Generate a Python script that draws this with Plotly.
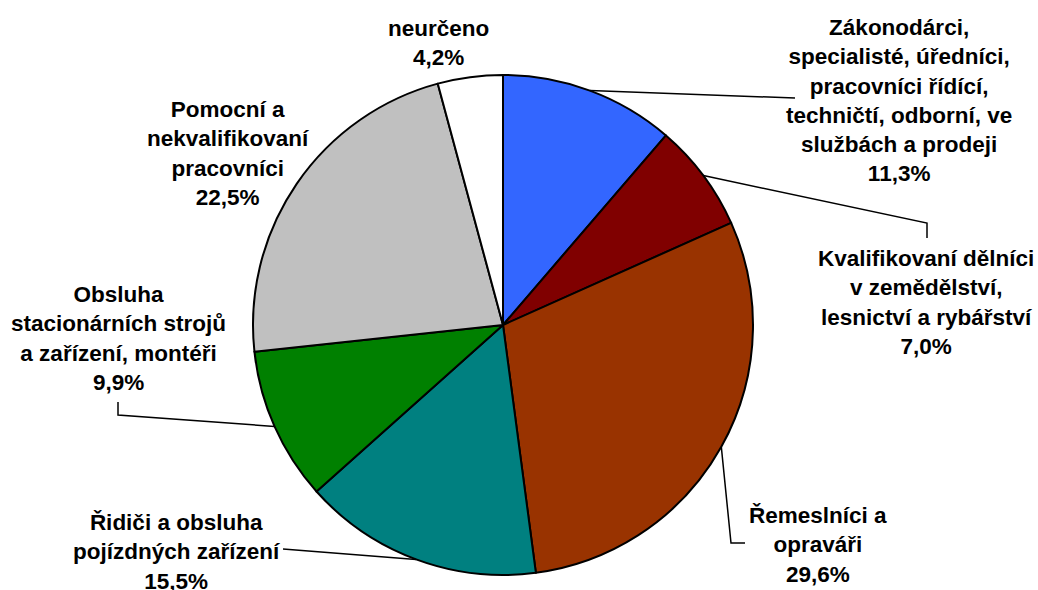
import math
import plotly.graph_objects as go

labels = [
    "Zákonodárci,<br>specialisté, úředníci,<br>pracovníci řídící,<br>techničtí, odborní, ve<br>službách a prodeji",
    "Kvalifikovaní dělníci<br>v zemědělství,<br>lesnictví a rybářství",
    "Řemeslníci a<br>opraváři",
    "Řidiči a obsluha<br>pojízdných zařízení",
    "Obsluha<br>stacionárních strojů<br>a zařízení, montéři",
    "Pomocní a<br>nekvalifikovaní<br>pracovníci",
    "neurčeno",
]
values = [11.3, 7.0, 29.6, 15.5, 9.9, 22.5, 4.2]
colors = ["#3366FF", "#800000", "#993300", "#008080", "#008000", "#C0C0C0", "#FFFFFF"]

W, H = 1038, 590
CX, CY, R = 503, 325, 250

# label layout (pixel positions of text centres) and leader-line elbows
label_pos = [(899, 100), (926, 302), (818, 545), (176, 552), (118, 338), (228, 153), (438, 43)]
leader_path = [
    [(795, 98)],
    [(927, 223), (927, 238)],
    [(731, 543), (745, 543)],
    [(283, 549)],
    [(118, 415), (118, 402)],
    None,
    None,
]

def px(x):
    return x / W

def py(y):
    return 1 - y / H

fig = go.Figure(go.Pie(
    labels=[l.replace("<br>", " ") for l in labels],
    values=values,
    sort=False,
    direction="clockwise",
    rotation=0,
    marker=dict(colors=colors, line=dict(color="black", width=2)),
    textinfo="none",
    hoverinfo="label+percent",
    domain=dict(x=[px(CX - R), px(CX + R)], y=[py(CY + R), py(CY - R)]),
    showlegend=False,
))

total = sum(values)
cum = 0.0
annotations = []
shapes = []
for i, (lab, v) in enumerate(zip(labels, values)):
    mid = (cum + v / 2) / total * 2 * math.pi
    cum += v
    txt = f"<b>{lab}<br>{str(v).replace('.', ',')}%</b>"
    lx, ly = label_pos[i]
    annotations.append(dict(
        x=px(lx), y=py(ly), xref="paper", yref="paper",
        text=txt, showarrow=False, align="center",
        xanchor="center", yanchor="middle",
        font=dict(family="Liberation Sans, Arial, sans-serif", size=22.5, color="black"),
    ))
    if leader_path[i]:
        sx = CX + R * math.sin(mid)
        sy = CY - R * math.cos(mid)
        pts = [(sx, sy)] + leader_path[i]
        path = "M " + " L ".join(f"{px(x)},{py(y)}" for x, y in pts)
        shapes.append(dict(type="path", path=path, xref="paper", yref="paper",
                           line=dict(color="black", width=1.5)))

fig.update_layout(
    width=W, height=H,
    margin=dict(l=0, r=0, t=0, b=0),
    paper_bgcolor="white",
    plot_bgcolor="white",
    annotations=annotations,
    shapes=shapes,
)

fig.write_html("out.html", config={"displayModeBar": False},
               post_script="document.body.style.margin='0';document.body.style.overflow='hidden';")
